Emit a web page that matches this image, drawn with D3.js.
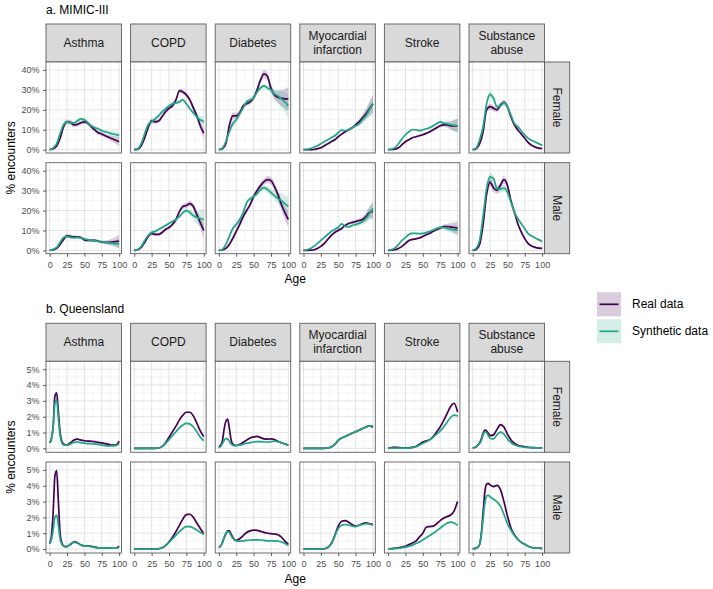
<!DOCTYPE html>
<html>
<head>
<meta charset="utf-8">
<script src="https://cdn.jsdelivr.net/npm/d3@7"></script>
<style>
  body { margin: 0; background: #fff; }
  text { font-family: "Liberation Sans", Arial, sans-serif; }
</style>
</head>
<body>
<script>
// facets
var conditions = ["Asthma", "COPD", "Diabetes", "Myocardial infarction", "Stroke", "Substance abuse"];
var sexes = ["Female", "Male"];
var series = ["Real data", "Synthetic data"];

// age grids (years)
var agesMimic = [0,5,10,15,20,25,30,35,40,45,50,55,60,65,70,75,80,85,90,95,100];
var agesQld = [0,2.5,5,7.5,10,12.5,15,17.5,20,22.5,25,30,35,40,45,50,55,60,65,70,75,80,85,90,95,100];

// a. MIMIC-III, % encounters, one row per condition
var mimicRealFemale = [
  [0,0.5,1.8,5.7,11.5,14,13.7,12.4,12.7,13.5,14,13.2,11.5,9.9,8.5,7.9,7,6.2,5.5,4.7,4],
  [0,0.3,2,6,11,14.5,14,14.4,16.6,19,20.8,22,25,29.5,29,27.5,25,21,17,12,8.3],
  [0,0.5,3,12,17,17,18.5,22,23,24,26,30,35,38,36.7,30.8,27.5,26.3,25.8,25.5,25.5],
  [0,0,0,0.1,0.5,1,2,3,4,5,6.5,7.8,9,10,11,12.5,14,16,18,20.5,23],
  [0,0.1,0.3,1,2.5,4,5,6,6.5,7,7.5,8.2,9,10,11,12,12.5,12.5,12,12,12],
  [0,0.5,3,9,20,21.6,20.8,20,22.4,23.8,21.6,16.6,12.4,9.9,7.9,5.7,3.5,2.2,1.3,0.8,0.6]
];
var mimicSynthFemale = [
  [0,0.8,3,8,12.5,14,13.5,13.5,14.5,15.5,15,13.5,12,11,10.5,9.5,9,8.5,8,7.6,7.2],
  [0,0.5,3,8,12.5,14,15.5,17,19,20.5,22,23,23.5,24,25,23,20.5,18.5,16.5,15,14],
  [0,0.8,4,9,13,15,18,21,24,25,26,29,31,32,31,30,28,27,25.5,24,22],
  [0,0.2,0.6,1.2,2,3,4,5,6,7,8.5,9.8,9.5,10,11,12,13,15,17,20,23],
  [0,0.3,1,3,5.5,7.5,9,10,10,9.5,10,10.5,11,12,13,14,13.3,13,12.5,12.3,12],
  [0,0.8,5,11.5,23,27.8,25.8,21.6,22,23.6,21.6,17.4,13.2,11.6,9.4,7.4,5.7,4.7,3.9,3,2.3]
];
var mimicRealMale = [
  [0,0.3,1,3,5.5,7.3,7,6.8,6.8,6.5,5.3,5,5,5,4.6,4.2,4,4,4.2,4.4,4.6],
  [0,0.3,1.5,4,7,8.5,8,8,9,10.5,11.5,13,15.5,19.5,22,22.5,23.5,22,18,14,10],
  [0,0.2,1,3,6,9.5,13,17,20,23,27,30,32.5,34.5,35.5,35,32,28,23,19,15.5],
  [0,0,0.1,0.3,1,2,3.5,5.5,7.5,9,10,11,12.5,13.5,14,14.5,15,15.5,17,19,19.5],
  [0,0.1,0.3,1,2,3.5,5,5.5,5.8,6.2,7,7.8,8.6,9.6,10.5,11.2,12,12,11.8,11.5,11.2],
  [0,0.5,3,13,28,34.3,31.3,30.2,32.7,35.5,32.7,25,19.3,13.4,9.2,5.9,3.4,2.2,1.5,1.1,1]
];
var mimicSynthMale = [
  [0,0.5,1.5,4,6.5,7,6.5,6.3,6.5,6.2,5.8,5.3,5,4.8,4.6,4.2,4,3.8,3.6,3.4,3.3],
  [0,0.5,2,5,7.5,9,9.5,10.5,11.5,12.5,13.5,14.5,15.5,17,19,20,19,17.5,16.5,16,15.5],
  [0,0.5,3,7,11,13,15.5,19,24,26,27,28.5,30.5,31.5,30.5,29,27.5,26,25,23.5,22],
  [0,0.3,1,2,3.5,5,6.5,8,9.5,10.5,11.5,13.3,12,11.8,12.5,13,13.5,14.5,16,18.5,21],
  [0,0.4,1.2,3,5,6.5,8,8.5,8.5,8.4,8.5,9,9.5,10.2,11,11.5,11.5,11,10.7,10.4,10.2],
  [0,1,5,17,31,36.9,36,31,30.7,31.3,29.3,24.3,19.3,15.9,13.4,10.9,8.4,7.2,6.2,5.4,4.5]
];

// confidence band half-widths (% points) for MIMIC-III
var mimicBandRealFemale = [
  [0.2,0.3,0.5,0.8,1,1.2,1.2,1,1,1,1,1,1,1,1,1,1,1.2,1.5,1.8,2],
  [0.2,0.3,0.6,1,1.2,1.2,1,1,1,1,1,1,1,1.2,1.2,1.2,1.2,1.3,1.5,2,2.5],
  [0.2,0.4,0.8,1.5,1.8,1.5,1.5,1.2,1.2,1.2,1.3,1.5,1.8,2,2,2,2.5,3,4,5,6],
  [0.1,0.1,0.2,0.3,0.4,0.5,0.5,0.5,0.5,0.6,0.6,0.6,0.6,0.7,0.8,1,1.3,1.8,2.5,3.5,4.5],
  [0.1,0.1,0.2,0.3,0.4,0.5,0.5,0.5,0.5,0.5,0.5,0.5,0.6,0.6,0.7,0.8,1,1.5,2,2.8,3.5],
  [0.2,0.3,0.6,1,1.2,1.5,1.5,1.3,1.3,1.3,1,0.8,0.6,0.5,0.4,0.4,0.4,0.4,0.4,0.4,0.4]
];
var mimicBandSynthFemale = [
  [0.2,0.3,0.5,0.8,1,1,1,0.8,0.8,0.8,0.8,0.8,0.8,0.8,0.8,0.8,0.8,1,1.2,1.5,1.8],
  [0.2,0.3,0.6,1,1.5,1.5,1.2,1,1,1,1,1,1,1,1,1,1,1.2,1.5,2,2.5],
  [0.2,0.4,0.8,1.5,1.8,1.5,1.5,1.2,1.2,1.2,1.2,1.2,1.2,1.2,1.2,1.5,2,3,4,5,6],
  [0.1,0.1,0.2,0.3,0.4,0.5,0.5,0.5,0.5,0.6,0.6,0.6,0.6,0.7,0.8,1,1.3,1.8,2.5,3.5,4.5],
  [0.1,0.1,0.2,0.3,0.4,0.5,0.5,0.5,0.5,0.5,0.5,0.5,0.6,0.6,0.7,0.8,1,1.5,2,2.8,3.5],
  [0.2,0.3,0.6,1.2,1.5,1.8,1.5,1.3,1.3,1.3,1,0.8,0.6,0.5,0.4,0.4,0.4,0.4,0.4,0.4,0.5]
];
var mimicBandRealMale = [
  [0.2,0.3,0.5,0.8,1,1,0.8,0.7,0.7,0.7,0.7,0.7,0.7,0.7,0.7,0.8,0.9,1.2,1.8,2.5,3.5],
  [0.2,0.3,0.5,0.8,0.9,0.9,0.8,0.8,0.8,0.8,0.8,0.8,0.9,1,1.2,1.3,1.4,1.6,2,3,4],
  [0.2,0.3,0.6,1,1.2,1.2,1.2,1.2,1.2,1.2,1.2,1.3,1.5,1.6,1.8,1.8,2,2.3,2.8,3.5,4],
  [0.1,0.1,0.2,0.3,0.4,0.5,0.6,0.6,0.6,0.6,0.6,0.6,0.6,0.7,0.8,0.9,1.1,1.5,2.2,3,4],
  [0.1,0.1,0.2,0.3,0.4,0.5,0.5,0.5,0.5,0.5,0.5,0.5,0.5,0.6,0.7,0.8,1,1.4,2,2.6,3.2],
  [0.2,0.3,0.8,1.5,2,2,2,1.8,1.8,2,1.8,1.5,1,0.8,0.6,0.5,0.5,0.4,0.4,0.4,0.4]
];
var mimicBandSynthMale = [
  [0.2,0.3,0.5,0.8,0.8,0.8,0.7,0.6,0.6,0.6,0.6,0.6,0.6,0.6,0.6,0.7,0.8,1,1.4,1.8,2.5],
  [0.2,0.3,0.5,0.8,0.9,0.9,0.8,0.8,0.8,0.8,0.8,0.8,0.8,0.9,1,1.2,1.5,2,3,4,5],
  [0.2,0.3,0.6,1,1.2,1.2,1.2,1.2,1.2,1.2,1.2,1.2,1.2,1.3,1.5,1.8,2.2,2.8,3.5,4.2,5],
  [0.1,0.1,0.2,0.3,0.4,0.5,0.6,0.6,0.6,0.6,0.6,0.6,0.6,0.7,0.8,0.9,1.1,1.5,2.2,3,4],
  [0.1,0.1,0.2,0.3,0.4,0.5,0.5,0.5,0.5,0.5,0.5,0.5,0.5,0.6,0.7,0.8,1,1.3,1.7,2.2,2.6],
  [0.2,0.3,0.8,1.5,2,2.2,2,1.8,1.8,1.8,1.6,1.3,1,0.8,0.6,0.5,0.5,0.5,0.5,0.6,0.8]
];

// b. Queensland, % encounters
var qldRealFemale = [
  [0.35,0.6,1.4,3.3,3.5,2.3,1.0,0.45,0.28,0.22,0.22,0.35,0.52,0.58,0.52,0.48,0.46,0.45,0.42,0.38,0.35,0.3,0.25,0.2,0.2,0.45],
  [0,0,0,0,0,0,0,0,0,0,0,0,0.02,0.12,0.35,0.7,1.05,1.4,1.8,2.1,2.28,2.28,2.05,1.6,1.1,0.74],
  [0.08,0.2,0.45,1.2,1.7,1.84,1.3,0.55,0.27,0.2,0.18,0.25,0.38,0.52,0.65,0.72,0.75,0.68,0.6,0.58,0.6,0.55,0.45,0.35,0.28,0.2],
  [0,0,0,0,0,0,0,0,0,0,0,0,0.02,0.08,0.25,0.5,0.65,0.75,0.85,0.95,1.05,1.15,1.25,1.35,1.42,1.33],
  [0.02,0.03,0.05,0.06,0.06,0.06,0.05,0.04,0.03,0.03,0.03,0.03,0.06,0.12,0.25,0.4,0.47,0.55,0.75,1.05,1.35,1.75,2.2,2.65,2.85,2.3],
  [0.02,0.05,0.1,0.2,0.35,0.6,0.95,1.15,1.1,0.95,0.8,0.85,1.2,1.5,1.35,0.9,0.55,0.32,0.2,0.14,0.1,0.07,0.05,0.04,0.03,0.03]
];
var qldSynthFemale = [
  [0.35,0.6,1.3,2.8,3.05,1.9,0.8,0.35,0.22,0.2,0.2,0.28,0.38,0.4,0.36,0.33,0.3,0.3,0.28,0.25,0.2,0.17,0.15,0.15,0.17,0.28],
  [0,0,0,0,0,0,0,0,0,0,0,0,0.02,0.1,0.3,0.55,0.8,1.05,1.3,1.48,1.58,1.55,1.35,1.05,0.72,0.49],
  [0.05,0.12,0.3,0.5,0.62,0.6,0.45,0.28,0.2,0.17,0.17,0.2,0.26,0.32,0.36,0.4,0.42,0.42,0.4,0.4,0.42,0.45,0.42,0.35,0.27,0.2],
  [0,0,0,0,0,0,0,0,0,0,0,0,0.02,0.08,0.25,0.5,0.65,0.75,0.85,0.95,1.05,1.15,1.25,1.35,1.42,1.42],
  [0.02,0.02,0.02,0.02,0.02,0.02,0.02,0.02,0.02,0.02,0.02,0.02,0.05,0.1,0.2,0.32,0.42,0.55,0.7,0.9,1.1,1.35,1.65,1.95,2.1,2.05],
  [0.02,0.05,0.1,0.2,0.3,0.5,0.85,1.05,1.0,0.8,0.62,0.6,0.85,1.02,0.9,0.6,0.37,0.22,0.15,0.1,0.07,0.05,0.04,0.03,0.03,0.02]
];
var qldRealMale = [
  [0.35,0.8,2.3,4.6,4.95,3.0,1.0,0.4,0.2,0.15,0.17,0.3,0.45,0.4,0.25,0.2,0.2,0.17,0.12,0.08,0.07,0.07,0.07,0.05,0.05,0.18],
  [0,0,0,0,0,0,0,0,0,0,0,0,0.02,0.08,0.22,0.45,0.75,1.1,1.5,1.9,2.18,2.2,2.0,1.65,1.3,0.97],
  [0.1,0.2,0.4,0.7,0.95,1.15,1.15,0.95,0.75,0.6,0.55,0.65,0.85,1.05,1.15,1.2,1.18,1.12,1.05,1.0,0.97,0.95,0.9,0.75,0.5,0.3],
  [0,0,0,0,0,0,0,0,0,0,0,0.02,0.1,0.35,0.85,1.45,1.75,1.8,1.7,1.55,1.45,1.5,1.6,1.65,1.6,1.55],
  [0.02,0.02,0.03,0.04,0.05,0.06,0.08,0.1,0.12,0.15,0.18,0.28,0.38,0.5,0.75,1.0,1.38,1.42,1.45,1.6,1.8,1.95,2.05,2.15,2.4,3.0],
  [0.02,0.03,0.06,0.12,0.3,1.0,2.3,3.6,4.1,4.15,4.05,3.95,4.02,3.75,3.0,2.1,1.35,0.9,0.62,0.42,0.3,0.18,0.1,0.06,0.05,0.04]
];
var qldSynthMale = [
  [0.35,0.6,1.2,2.0,2.15,1.5,0.65,0.3,0.18,0.15,0.17,0.3,0.42,0.38,0.25,0.2,0.18,0.15,0.1,0.08,0.07,0.07,0.07,0.05,0.05,0.12],
  [0,0,0,0,0,0,0,0,0,0,0,0,0.02,0.08,0.22,0.42,0.65,0.88,1.1,1.3,1.42,1.42,1.33,1.2,1.05,0.93],
  [0.1,0.2,0.4,0.75,1.0,1.1,1.05,0.85,0.68,0.58,0.52,0.5,0.52,0.55,0.57,0.58,0.58,0.57,0.55,0.52,0.52,0.52,0.5,0.45,0.35,0.22],
  [0,0,0,0,0,0,0,0,0,0,0,0.02,0.1,0.32,0.8,1.3,1.5,1.55,1.52,1.45,1.42,1.5,1.55,1.6,1.58,1.5],
  [0.01,0.01,0.02,0.02,0.03,0.04,0.05,0.06,0.08,0.1,0.12,0.18,0.25,0.35,0.45,0.58,0.72,0.85,1.0,1.15,1.32,1.5,1.63,1.7,1.65,1.5],
  [0.02,0.03,0.06,0.12,0.3,0.9,1.9,2.9,3.35,3.4,3.3,3.15,2.98,2.7,2.2,1.6,1.2,0.85,0.6,0.42,0.3,0.18,0.1,0.06,0.05,0.04]
];
var qldBand = 0.05; // band half-width, nearly invisible

// ticks
var xTicks = [0, 25, 50, 75, 100];
var xMinor = [12.5, 37.5, 62.5, 87.5];
var mimicTicks = [0, 10, 20, 30, 40];
var mimicMinor = [5, 15, 25, 35];
var qldTicks = [0, 1, 2, 3, 4, 5];
var qldMinor = [0.5, 1.5, 2.5, 3.5, 4.5];

var colors = ["#440154", "#21a685"];
var keyFills = ["#d9ccdd", "#d3eee6"];

var layout = {
  left: 46, colStep: 84.6, panelW: 75.5, panelH: 91, stripH: 38, rowGap: 9.7, rowStripW: 25.2
};

var blocks = [
  { title: "a. MIMIC-III", top: 24, ages: agesMimic, yDomain: [-1.66, 44], ticks: mimicTicks, minor: mimicMinor,
    vals: [[mimicRealFemale, mimicSynthFemale], [mimicRealMale, mimicSynthMale]],
    bands: [[mimicBandRealFemale, mimicBandSynthFemale], [mimicBandRealMale, mimicBandSynthMale]] },
  { title: "b. Queensland", top: 323.3, ages: agesQld, yDomain: [-0.25, 5.5], ticks: qldTicks, minor: qldMinor,
    vals: [[qldRealFemale, qldSynthFemale], [qldRealMale, qldSynthMale]],
    bands: null }
];

var svg = d3.select("body").append("svg")
  .attr("width", 713)
  .attr("height", 589);

var x = d3.scaleLinear().domain([-5.3, 103.4]).range([0, layout.panelW]);

blocks.forEach(function(b, bi) {
  var T = b.top;
  var y = d3.scaleLinear().domain(b.yDomain).range([layout.panelH, 0]);
  var rowsTop = T + layout.stripH;
  var rowsBottom = rowsTop + 2 * layout.panelH + layout.rowGap;

  svg.append("text")
    .attr("x", layout.left).attr("y", T - 10.5)
    .style("font-size", "12px").style("fill", "#000")
    .text(b.title);

  // y title
  svg.append("text")
    .attr("transform", "translate(15," + ((rowsTop + rowsBottom) / 2) + ") rotate(-90)")
    .attr("text-anchor", "middle")
    .style("font-size", "12px")
    .text("% encounters");

  // x title
  var lastRight = layout.left + 5 * layout.colStep + layout.panelW;
  svg.append("text")
    .attr("x", (layout.left + lastRight) / 2).attr("y", rowsBottom + 29.5)
    .attr("text-anchor", "middle")
    .style("font-size", "12px")
    .text("Age");

  conditions.forEach(function(cond, c) {
    var px = layout.left + c * layout.colStep;

    // column strip
    var strip = svg.append("g").attr("transform", "translate(" + px + "," + T + ")");
    strip.append("rect")
      .attr("width", layout.panelW).attr("height", layout.stripH)
      .attr("fill", "#d9d9d9").attr("stroke", "#5e5e5e").attr("stroke-width", 0.9);
    var words = cond.split(" ");
    var lines = words.length > 1 ? words : [cond];
    lines.forEach(function(w, li) {
      strip.append("text")
        .attr("x", layout.panelW / 2)
        .attr("y", layout.stripH / 2 + 4.2 + (li - (lines.length - 1) / 2) * 14)
        .attr("text-anchor", "middle")
        .style("font-size", "12px").style("fill", "#1a1a1a")
        .text(w);
    });

    sexes.forEach(function(sex, r) {
      var py = rowsTop + r * (layout.panelH + layout.rowGap);
      var g = svg.append("g").attr("transform", "translate(" + px + "," + py + ")");
      var clipId = "clip-" + bi + "-" + c + "-" + r;

      g.append("clipPath").attr("id", clipId)
        .append("rect").attr("width", layout.panelW).attr("height", layout.panelH);

      g.append("rect").attr("width", layout.panelW).attr("height", layout.panelH).attr("fill", "#fff");

      // grid
      g.selectAll(".vmin").data(xMinor).enter().append("line")
        .attr("x1", x).attr("x2", x).attr("y1", 0).attr("y2", layout.panelH)
        .attr("stroke", "#f0f0f0").attr("stroke-width", 0.6);
      g.selectAll(".hmin").data(b.minor).enter().append("line")
        .attr("y1", y).attr("y2", y).attr("x1", 0).attr("x2", layout.panelW)
        .attr("stroke", "#f0f0f0").attr("stroke-width", 0.6);
      g.selectAll(".vmaj").data(xTicks).enter().append("line")
        .attr("x1", x).attr("x2", x).attr("y1", 0).attr("y2", layout.panelH)
        .attr("stroke", "#e4e4e4").attr("stroke-width", 1);
      g.selectAll(".hmaj").data(b.ticks).enter().append("line")
        .attr("y1", y).attr("y2", y).attr("x1", 0).attr("x2", layout.panelW)
        .attr("stroke", "#e4e4e4").attr("stroke-width", 1);

      var plot = g.append("g").attr("clip-path", "url(#" + clipId + ")");

      // ribbons
      [0, 1].forEach(function(s) {
        var vals = b.vals[r][s][c];
        var band = b.bands ? b.bands[r][s][c] : null;
        var pts = b.ages.map(function(a, i) {
          var h = band ? band[i] : qldBand;
          return { a: a, lo: vals[i] - h, hi: vals[i] + h };
        });
        plot.append("path")
          .datum(pts)
          .attr("fill", colors[s]).attr("fill-opacity", 0.2)
          .attr("d", d3.area().curve(d3.curveMonotoneX)
            .x(function(d) { return x(d.a); })
            .y0(function(d) { return y(d.lo); })
            .y1(function(d) { return y(d.hi); }));
      });

      // lines
      [0, 1].forEach(function(s) {
        var vals = b.vals[r][s][c];
        plot.append("path")
          .datum(b.ages.map(function(a, i) { return [a, vals[i]]; }))
          .attr("fill", "none").attr("stroke", colors[s]).attr("stroke-width", 1.7)
          .attr("stroke-linejoin", "round")
          .attr("d", d3.line().curve(d3.curveMonotoneX)
            .x(function(d) { return x(d[0]); })
            .y(function(d) { return y(d[1]); }));
      });

      g.append("rect").attr("width", layout.panelW).attr("height", layout.panelH)
        .attr("fill", "none").attr("stroke", "#5e5e5e").attr("stroke-width", 0.9);

      if (c === 0) {
        var ya = g.append("g").call(d3.axisLeft(y).tickValues(b.ticks).tickSize(3).tickPadding(3.5)
          .tickFormat(function(d) { return d + "%"; }));
        styleAxis(ya);
      }
      if (r === 1) {
        var xa = g.append("g").attr("transform", "translate(0," + layout.panelH + ")")
          .call(d3.axisBottom(x).tickValues(xTicks).tickSize(3).tickPadding(4.5));
        styleAxis(xa);
      }
      if (c === conditions.length - 1) {
        var rs = svg.append("g").attr("transform", "translate(" + (px + layout.panelW) + "," + py + ")");
        rs.append("rect").attr("width", layout.rowStripW).attr("height", layout.panelH)
          .attr("fill", "#d9d9d9").attr("stroke", "#5e5e5e").attr("stroke-width", 0.9);
        rs.append("text")
          .attr("transform", "translate(" + (layout.rowStripW / 2 - 4.2) + "," + (layout.panelH / 2) + ") rotate(90)")
          .attr("text-anchor", "middle")
          .style("font-size", "12px").style("fill", "#1a1a1a")
          .text(sex);
      }
    });
  });
});

function styleAxis(a) {
  a.select(".domain").remove();
  a.selectAll(".tick line").attr("stroke", "#333").attr("stroke-width", 0.8);
  a.selectAll(".tick text").style("font-size", "9px").style("fill", "#4d4d4d")
    .style("font-family", "Liberation Sans, Arial, sans-serif");
}

// legend
var legend = svg.append("g").attr("transform", "translate(597,292.3)");
series.forEach(function(s, i) {
  var k = legend.append("g").attr("transform", "translate(0," + (i * 27) + ")");
  k.append("rect").attr("width", 24).attr("height", 24).attr("fill", keyFills[i]);
  k.append("line").attr("x1", 2.5).attr("x2", 21.5).attr("y1", 12).attr("y2", 12)
    .attr("stroke", colors[i]).attr("stroke-width", 1.7);
  k.append("text").attr("x", 35).attr("y", 16.2)
    .style("font-size", "12px").style("fill", "#000")
    .text(s);
});
</script>
</body>
</html>
